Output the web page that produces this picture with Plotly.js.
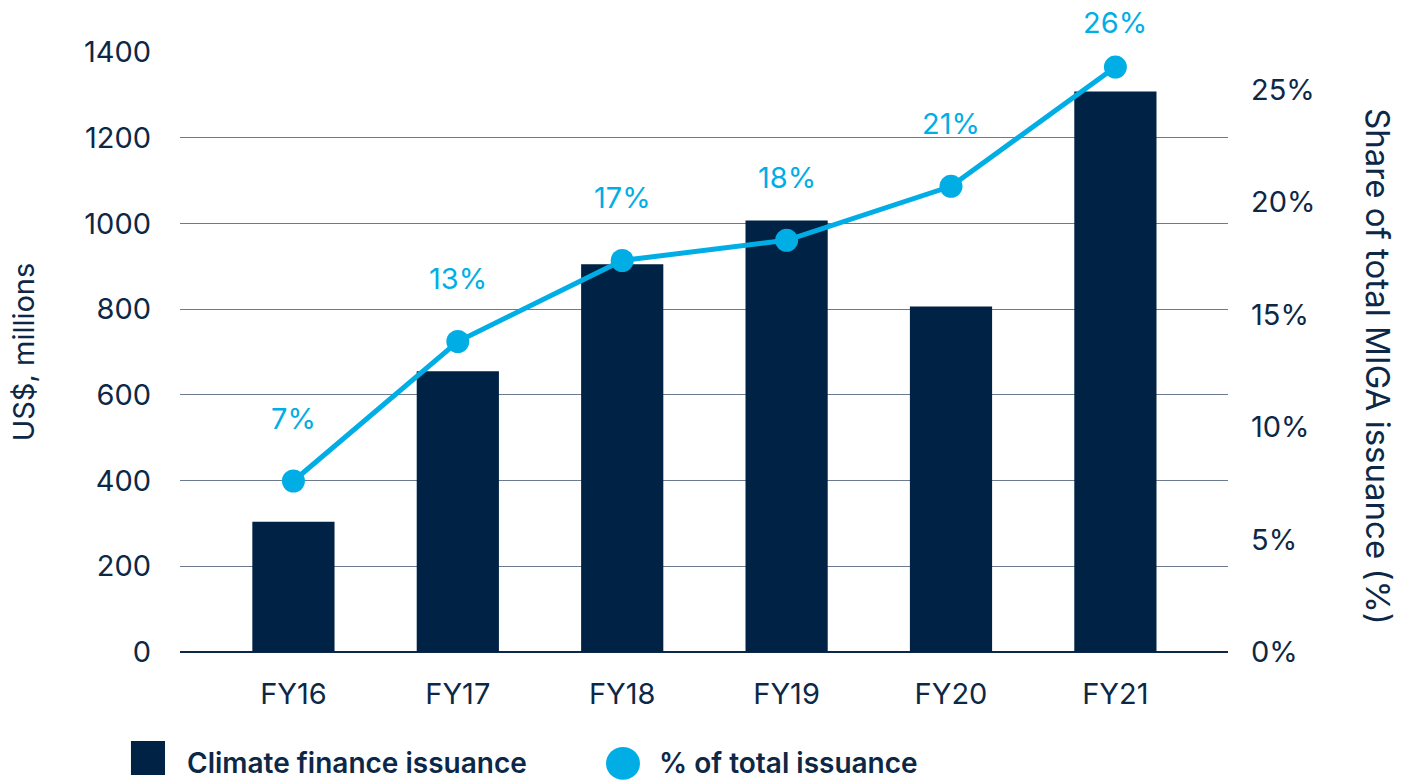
<!DOCTYPE html>
<html>
<head>
<meta charset="utf-8">
<script src="https://cdn.plot.ly/plotly-3.0.1.min.js"></script>
<style>html,body{margin:0;padding:0;background:#fff;}#chart{width:1409px;height:781px;}</style>
</head>
<body>
<div id="chart"></div>
<script>
// ---- data ----
const categories = ["FY16", "FY17", "FY18", "FY19", "FY20", "FY21"];
const issuance = [304, 655, 905, 1007, 806, 1308];          // US$ millions
const sharePct = [7.6, 13.8, 17.4, 18.3, 20.7, 26.0];       // % of total issuance
const shareLabels = ["7%", "13%", "17%", "18%", "21%", "26%"];
const leftTicks = [0, 200, 400, 600, 800, 1000, 1200, 1400];
const rightTicks = [0, 5, 10, 15, 20, 25];
const rightTickLabels = ["0%", "5%", "10%", "15%", "20%", "25%"];
const seriesNames = ["Climate finance issuance", "% of total issuance"];
const leftTitle = "US$, millions";
const rightTitle = "Share of total MIGA issuance (%)";

const NAVY = "#002244";
const CYAN = "#00AEE5";
const TEXT = "#0d2847";
const FONT = "Inter, 'Open Sans', sans-serif";

const traces = [
  {
    type: "bar", x: categories, y: issuance, name: seriesNames[0],
    marker: {color: NAVY}, width: 0.5, yaxis: "y", hoverinfo: "skip"
  },
  {
    type: "scatter", mode: "lines+markers", x: categories, y: sharePct, name: seriesNames[1],
    line: {color: CYAN, width: 5}, marker: {color: CYAN, size: 23}, yaxis: "y2",
    cliponaxis: false, hoverinfo: "skip"
  }
];

const annotations = categories.map((c, i) => ({
  x: c, y: sharePct[i], xref: "x", yref: "y2", text: shareLabels[i],
  showarrow: false, yanchor: "middle", xanchor: "center",
  yshift: sharePct[i] > 25 ? 45 : 63,
  font: {family: FONT, size: 29, color: CYAN}
}));

// right axis title reading top-to-bottom
annotations.push({
  xref: "paper", yref: "paper", x: 1.143, y: 0.475, xanchor: "center", yanchor: "middle",
  text: rightTitle, textangle: 90, showarrow: false,
  font: {family: FONT, size: 33, color: TEXT}
});

// custom legend (large swatches)
annotations.push({
  xref: "paper", yref: "paper", x: 0.005, y: -0.185, xanchor: "left", yanchor: "middle",
  text: seriesNames[0], showarrow: false,
  font: {family: FONT, size: 28, color: TEXT, weight: 600}
});
annotations.push({
  xref: "paper", yref: "paper", x: 0.455, y: -0.185, xanchor: "left", yanchor: "middle",
  text: seriesNames[1], showarrow: false,
  font: {family: FONT, size: 28, color: TEXT, weight: 600}
});

const shapes = [
  {type: "rect", xref: "paper", yref: "paper", x0: -0.0468, x1: -0.0143, y0: -0.205, y1: -0.1483,
   fillcolor: NAVY, line: {width: 0}},
  {type: "circle", xref: "paper", yref: "paper", x0: 0.4065, x1: 0.4389, y0: -0.213, y1: -0.1583,
   fillcolor: CYAN, line: {width: 0}}
];

const layout = {
  width: 1409, height: 781,
  margin: {l: 180, r: 181, t: 52, b: 129, pad: 0},
  paper_bgcolor: "#ffffff", plot_bgcolor: "#ffffff",
  showlegend: false,
  font: {family: FONT, color: TEXT, size: 29},
  xaxis: {
    type: "category", range: [-0.69, 5.685], showgrid: false, showline: false,
    ticks: "", ticklabelstandoff: 22, tickfont: {family: FONT, size: 29, color: TEXT},
    fixedrange: true
  },
  yaxis: {
    range: [0, 1400], tickvals: leftTicks, ticktext: leftTicks.map(String),
    showgrid: true, gridcolor: "#6b7a8f", gridwidth: 1,
    zeroline: true, zerolinecolor: "#0d2847", zerolinewidth: 2.5,
    showline: false, ticks: "", ticklabelstandoff: 28,
    tickfont: {family: FONT, size: 29, color: TEXT},
    title: {text: leftTitle, standoff: 40, font: {family: FONT, size: 29, color: TEXT}},
    fixedrange: true
  },
  yaxis2: {
    overlaying: "y", side: "right", range: [0, 26.667],
    tickvals: rightTicks, ticktext: rightTickLabels,
    showgrid: false, zeroline: false, showline: false, ticks: "", ticklabelstandoff: 22,
    tickfont: {family: FONT, size: 29, color: TEXT},
    fixedrange: true
  },
  annotations: annotations,
  shapes: shapes
};

Plotly.newPlot("chart", traces, layout, {displayModeBar: false, staticPlot: true});
</script>
</body>
</html>
